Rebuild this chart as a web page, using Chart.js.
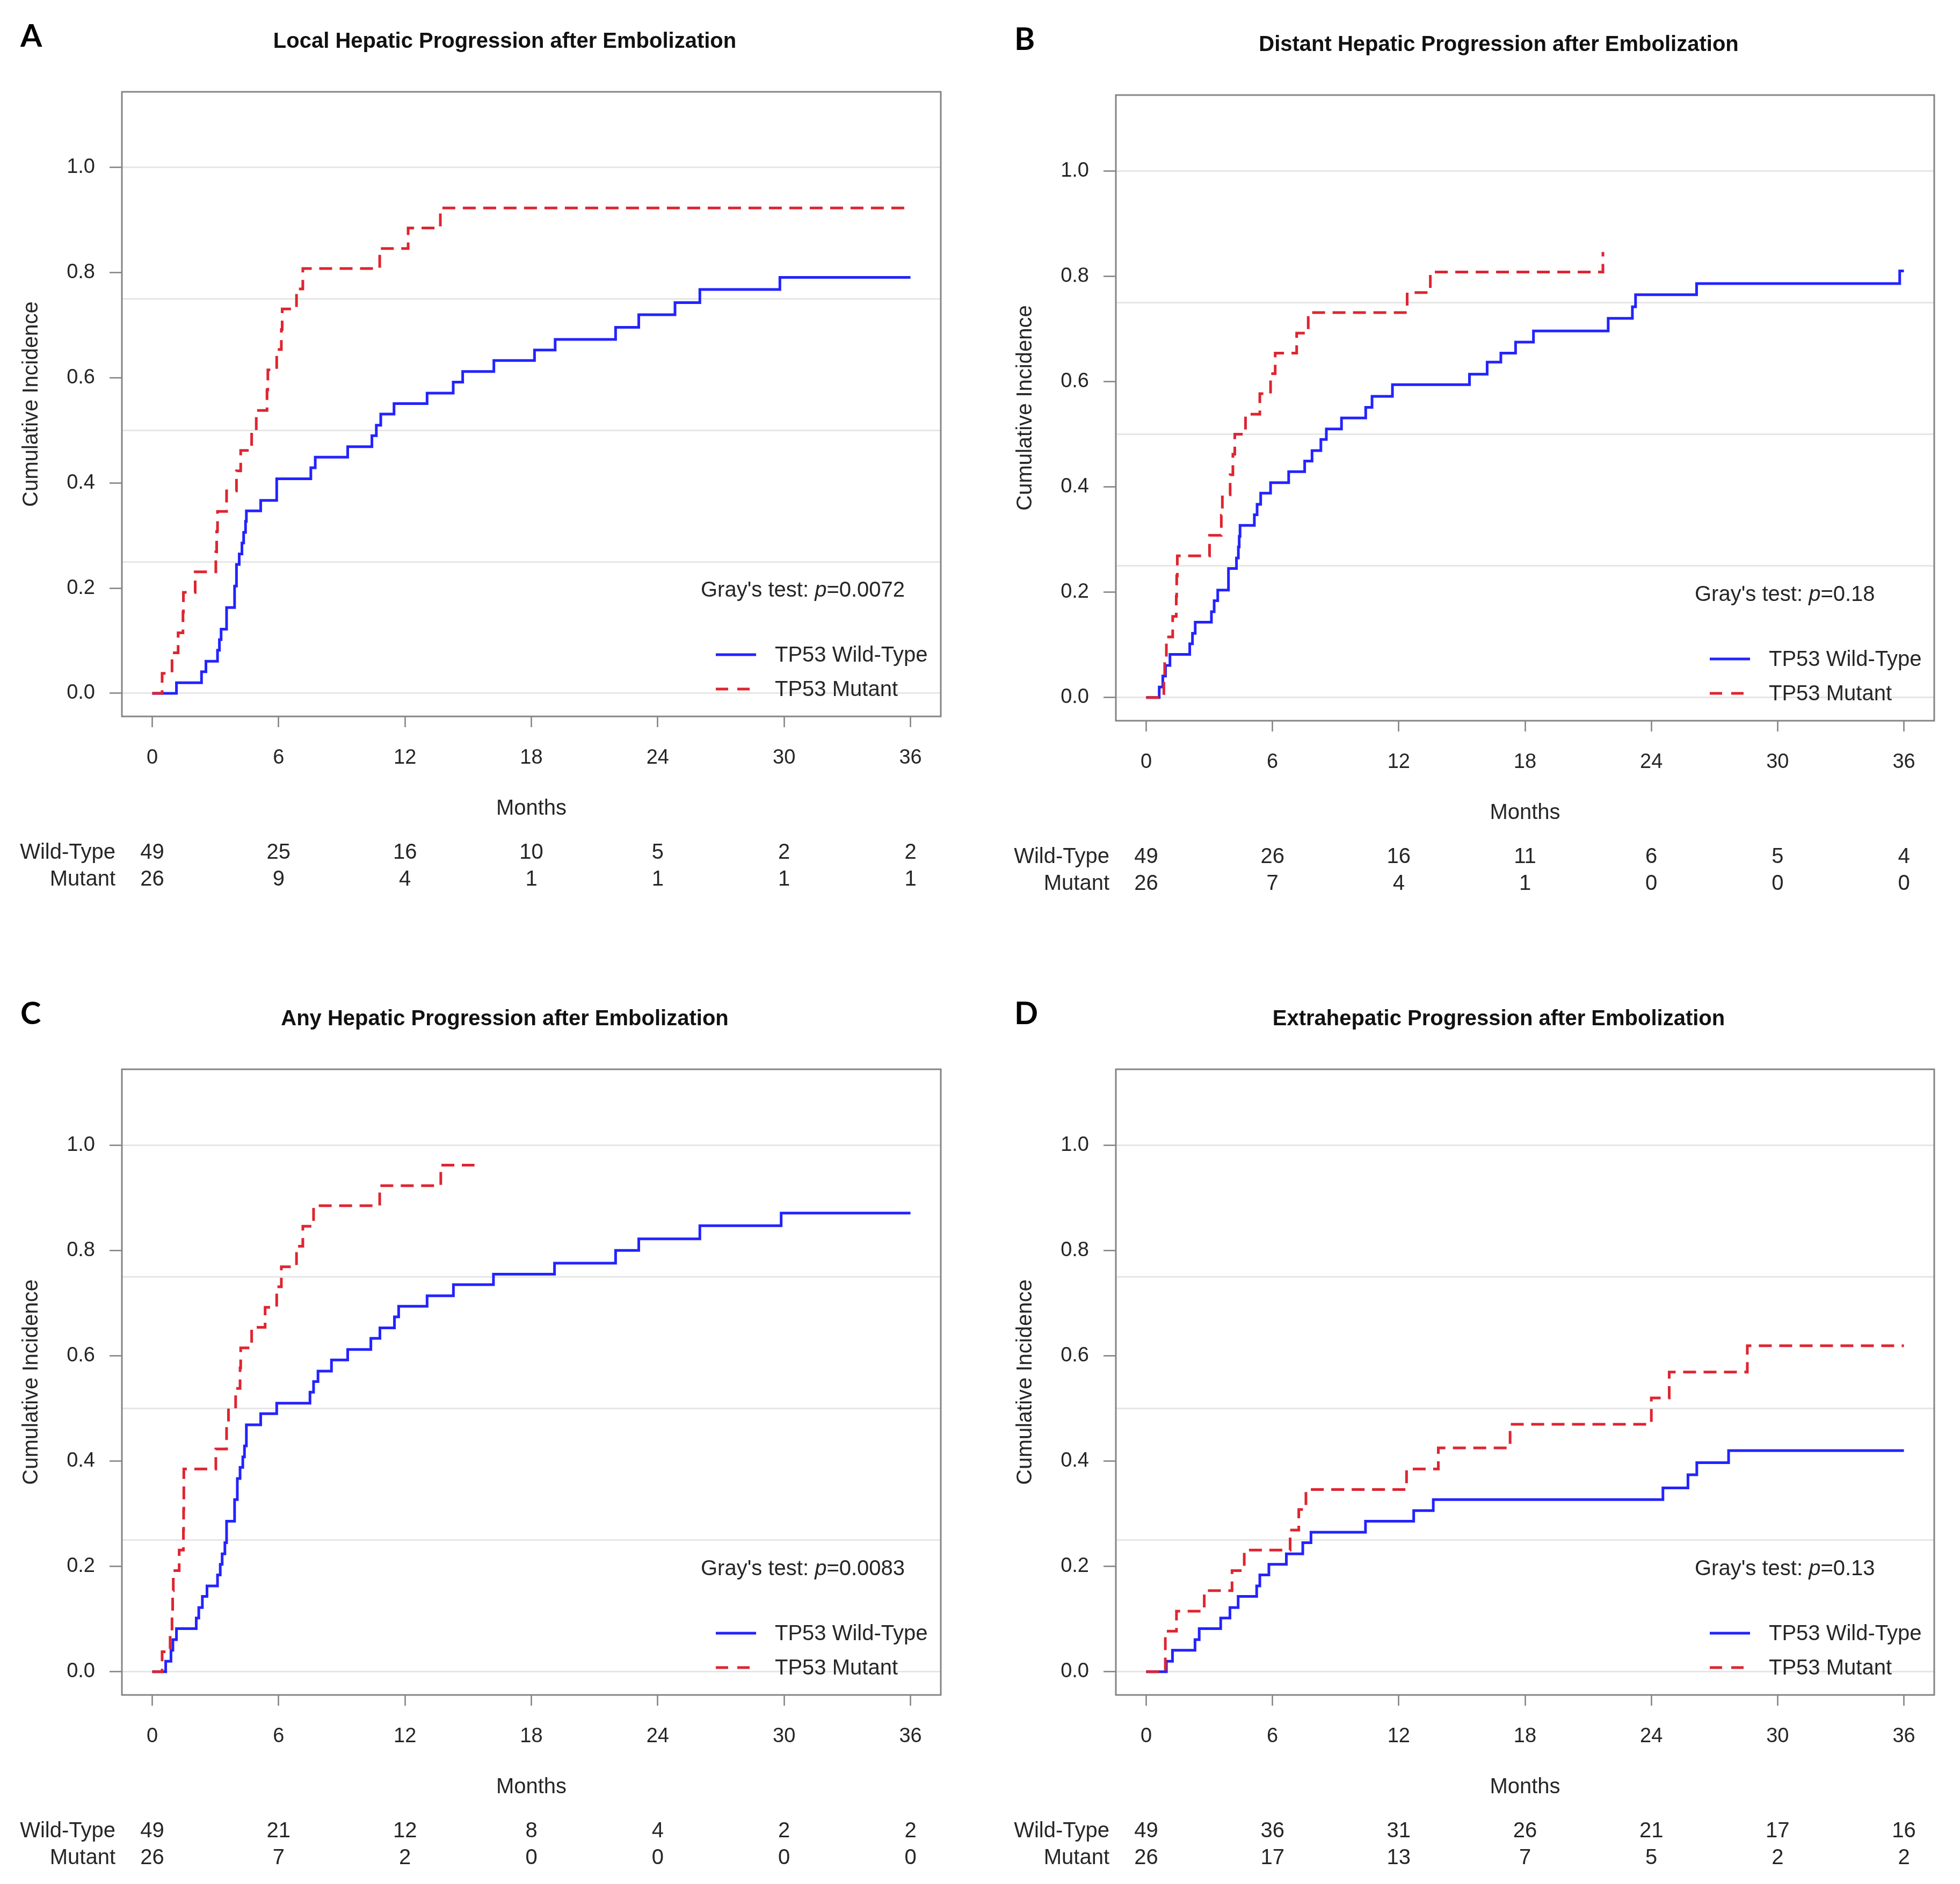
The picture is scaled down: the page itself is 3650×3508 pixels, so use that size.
<!DOCTYPE html>
<html>
<head>
<meta charset="utf-8">
<script src="https://cdn.jsdelivr.net/npm/chart.js@4.4.1/dist/chart.umd.min.js"></script>
<style>
html,body{margin:0;padding:0;background:#fff;}
body{width:3650px;height:3508px;position:relative;overflow:hidden;}
canvas{position:absolute;}
</style>
</head>
<body>
<canvas id="cA" width="1825" height="1754" style="left:0px;top:0px;width:1825px;height:1754px"></canvas>
<canvas id="cB" width="1825" height="1754" style="left:1825px;top:0px;width:1825px;height:1754px"></canvas>
<canvas id="cC" width="1825" height="1754" style="left:0px;top:1754px;width:1825px;height:1754px"></canvas>
<canvas id="cD" width="1825" height="1754" style="left:1825px;top:1754px;width:1825px;height:1754px"></canvas>
<script>
// ---------- tick labels / axis values ----------
const monthTicks = [0, 6, 12, 18, 24, 30, 36];
const yTicks = [0, 0.2, 0.4, 0.6, 0.8, 1.0];
const gridLevels = [0, 0.25, 0.5, 0.75, 1.0];
const groupNames = ['TP53 Wild-Type', 'TP53 Mutant'];
const riskLabels = ['Wild-Type', 'Mutant'];

// ---------- Panel A: Local hepatic progression ----------
const aWildTime = [0,1.15,2.34,2.55,3.1,3.19,3.27,3.53,3.91,4.0,4.13,4.26,4.34,4.43,4.47,5.15,5.91,7.53,7.74,9.28,10.43,10.64,10.85,11.48,13.05,14.29,14.74,16.22,18.15,19.13,22.0,23.1,24.82,26.0,29.8,36];
const aWildCif  = [0,0.020,0.041,0.061,0.082,0.102,0.122,0.163,0.204,0.245,0.265,0.286,0.306,0.327,0.347,0.367,0.408,0.429,0.449,0.469,0.490,0.510,0.531,0.551,0.571,0.592,0.612,0.633,0.653,0.673,0.696,0.720,0.743,0.768,0.791,0.791];
const aMutTime  = [0,0.47,0.94,1.23,1.46,1.48,2.04,3.02,3.06,3.1,3.53,4.0,4.2,4.72,4.94,5.45,5.49,5.91,6.13,6.17,6.85,7.15,10.8,12.15,13.68,36];
const aMutCif   = [0,0.038,0.077,0.115,0.154,0.192,0.231,0.269,0.308,0.346,0.385,0.423,0.462,0.5,0.538,0.577,0.615,0.654,0.692,0.731,0.769,0.808,0.846,0.885,0.923,0.923];
const aRiskWild = [49,25,16,10,5,2,2];
const aRiskMut  = [26,9,4,1,1,1,1];

// ---------- Panel B: Distant hepatic progression ----------
const bWildTime = [0,0.62,0.79,0.92,1.13,2.07,2.2,2.33,3.1,3.23,3.4,3.91,4.29,4.38,4.42,4.46,5.14,5.27,5.44,5.91,6.77,7.53,7.88,8.3,8.56,9.28,10.43,10.73,11.7,15.36,16.2,16.85,17.55,18.4,21.95,23.1,23.25,26.15,35.8,36];
const bWildCif  = [0,0.02,0.041,0.061,0.082,0.102,0.122,0.143,0.163,0.184,0.204,0.245,0.265,0.286,0.306,0.327,0.347,0.367,0.388,0.408,0.429,0.449,0.469,0.49,0.51,0.531,0.551,0.572,0.594,0.614,0.637,0.654,0.675,0.696,0.72,0.742,0.765,0.786,0.81,0.81];
const bMutTime  = [0,0.84,0.88,0.96,1.26,1.43,1.45,1.48,3.01,3.57,3.62,3.99,4.12,4.21,4.72,5.4,5.91,6.13,7.15,7.7,12.4,13.5,21.7];
const bMutCif   = [0,0.038,0.077,0.115,0.154,0.192,0.231,0.269,0.308,0.346,0.385,0.423,0.462,0.5,0.538,0.577,0.615,0.654,0.692,0.731,0.769,0.808,0.846];
const bRiskWild = [49,26,16,11,6,5,4];
const bRiskMut  = [26,7,4,1,0,0,0];

// ---------- Panel C: Any hepatic progression ----------
const cWildTime = [0,0.64,0.89,0.98,1.15,2.09,2.21,2.38,2.6,3.1,3.23,3.32,3.45,3.53,3.91,4.04,4.17,4.3,4.38,4.47,5.15,5.91,7.49,7.66,7.87,8.51,9.28,10.38,10.81,11.5,11.7,13.05,14.3,16.2,19.1,22.0,23.1,26.0,29.86,36];
const cWildCif  = [0,0.02,0.041,0.061,0.082,0.102,0.122,0.143,0.163,0.184,0.204,0.224,0.245,0.286,0.327,0.367,0.388,0.408,0.429,0.469,0.49,0.51,0.531,0.551,0.571,0.592,0.612,0.633,0.653,0.674,0.694,0.714,0.735,0.755,0.776,0.8,0.822,0.847,0.871,0.871];
const cMutTime  = [0,0.47,0.85,0.94,0.97,1.0,1.28,1.48,1.49,1.5,3.02,3.53,3.62,3.96,4.17,4.2,4.72,5.36,5.91,6.13,6.85,7.15,7.66,10.8,13.7,15.3];
const cMutCif   = [0,0.038,0.077,0.115,0.154,0.192,0.231,0.269,0.308,0.385,0.423,0.462,0.5,0.538,0.577,0.615,0.654,0.692,0.731,0.769,0.808,0.846,0.885,0.923,0.962,0.962];
const cRiskWild = [49,21,12,8,4,2,2];
const cRiskMut  = [26,7,2,0,0,0,0];

// ---------- Panel D: Extrahepatic progression ----------
const dWildTime = [0,0.96,1.25,2.32,2.52,3.54,3.98,4.37,5.25,5.4,5.83,6.66,7.44,7.83,10.42,12.71,13.64,24.55,25.74,26.16,27.67,36];
const dWildCif  = [0,0.02,0.041,0.061,0.082,0.102,0.122,0.143,0.163,0.184,0.204,0.224,0.245,0.265,0.286,0.306,0.327,0.349,0.374,0.397,0.42,0.42];
const dMutTime  = [0,0.91,1.44,2.76,4.08,4.66,6.84,7.25,7.59,12.37,13.88,17.29,24.0,24.85,28.56,36];
const dMutCif   = [0,0.077,0.115,0.154,0.192,0.231,0.269,0.308,0.346,0.385,0.425,0.47,0.52,0.569,0.619,0.619];
const dRiskWild = [49,36,31,26,21,17,16];
const dRiskMut  = [26,17,13,7,5,2,2];

const panelLetters = ['A','B','C','D'];
const panelTitles = [
  'Local Hepatic Progression after Embolization',
  'Distant Hepatic Progression after Embolization',
  'Any Hepatic Progression after Embolization',
  'Extrahepatic Progression after Embolization'
];
const grayP = ['0.0072','0.18','0.0083','0.13'];

// ---------- styling ----------
const FONT = "'Liberation Sans', Arial, Helvetica, sans-serif";
const BLUE = '#2323ff';
const RED = '#de2530';
const TXT = '#262626';

function toXY(t, v) { return t.map((x, i) => ({ x: x, y: v[i] })); }

function makePanel(id, idx, wT, wY, mT, mY, rW, rM, pad) {
  const overlay = {
    id: 'overlay' + idx,
    afterDraw(chart) {
      const ctx = chart.ctx, a = chart.chartArea, xs = chart.scales.x;
      ctx.save();
      // plot box
      ctx.strokeStyle = '#858585';
      ctx.lineWidth = 3;
      ctx.strokeRect(a.left, a.top, a.right - a.left, a.bottom - a.top);
      // panel letter
      ctx.fillStyle = '#000';
      ctx.textBaseline = 'alphabetic';
      ctx.textAlign = 'left';
      ctx.font = "bold 58px Lato, 'Open Sans', sans-serif";
      ctx.fillText(panelLetters[idx], a.left - 189, a.top - 84);
      // title
      ctx.font = 'bold 40px ' + FONT;
      ctx.textAlign = 'center';
      ctx.fillStyle = '#111';
      ctx.fillText(panelTitles[idx], a.left + 713, a.top - 82);
      // Gray's test
      ctx.fillStyle = TXT;
      ctx.textAlign = 'left';
      let gx = a.left + 1078;
      const gy = a.bottom - 223;
      ctx.font = '40px ' + FONT;
      const s1 = "Gray's test: ";
      ctx.fillText(s1, gx, gy); gx += ctx.measureText(s1).width;
      ctx.font = 'italic 40px ' + FONT;
      ctx.fillText('p', gx, gy); gx += ctx.measureText('p').width;
      ctx.font = '40px ' + FONT;
      ctx.fillText('=' + grayP[idx], gx, gy);
      // legend
      const lx0 = a.left + 1106, lx1 = a.left + 1181, tx = a.left + 1216;
      const rows = [a.bottom - 115, a.bottom - 51];
      ctx.lineWidth = 5;
      ctx.strokeStyle = BLUE; ctx.setLineDash([]);
      ctx.beginPath(); ctx.moveTo(lx0, rows[0]); ctx.lineTo(lx1, rows[0]); ctx.stroke();
      ctx.strokeStyle = RED; ctx.setLineDash([23, 17]);
      ctx.beginPath(); ctx.moveTo(lx0, rows[1]); ctx.lineTo(lx1, rows[1]); ctx.stroke();
      ctx.setLineDash([]);
      ctx.textBaseline = 'middle';
      ctx.fillStyle = TXT;
      ctx.fillText(groupNames[0], tx, rows[0] + 2);
      ctx.fillText(groupNames[1], tx, rows[1] + 2);
      // risk table
      const ry = [a.bottom + 254, a.bottom + 304];
      ctx.textAlign = 'right';
      ctx.fillText(riskLabels[0], a.left - 12, ry[0]);
      ctx.fillText(riskLabels[1], a.left - 12, ry[1]);
      ctx.textAlign = 'center';
      monthTicks.forEach((m, i) => {
        const px = xs.getPixelForValue(m);
        ctx.fillText(String(rW[i]), px, ry[0]);
        ctx.fillText(String(rM[i]), px, ry[1]);
      });
      ctx.restore();
    }
  };

  return new Chart(document.getElementById(id), {
    type: 'line',
    data: {
      datasets: [
        { label: groupNames[1], data: toXY(mT, mY), borderColor: RED, borderWidth: 5,
          borderDash: [24, 14], stepped: true, pointRadius: 0, fill: false },
        { label: groupNames[0], data: toXY(wT, wY), borderColor: BLUE, borderWidth: 5,
          stepped: true, pointRadius: 0, fill: false }
      ]
    },
    options: {
      responsive: false,
      animation: false,
      devicePixelRatio: 1,
      events: [],
      layout: { padding: pad },
      plugins: { legend: { display: false }, tooltip: { enabled: false }, title: { display: false } },
      scales: {
        x: {
          type: 'linear', position: 'bottom', min: -1.44, max: 37.44,
          afterBuildTicks: s => { s.ticks = monthTicks.map(v => ({ value: v })); },
          afterFit: s => { s.height = 196; },
          grid: { drawOnChartArea: false, drawTicks: true, tickLength: 20, tickColor: '#808080', tickWidth: 2.5 },
          border: { display: false },
          ticks: { font: { family: FONT, size: 38, lineHeight: 1 }, color: TXT, padding: 39,
                   maxRotation: 0, autoSkip: false, callback: v => String(v) },
          title: { display: true, text: 'Months', color: TXT,
                   font: { family: FONT, size: 40, lineHeight: 1 }, padding: { top: 4, bottom: 4 } }
        },
        y: {
          type: 'linear', position: 'left', min: -0.044, max: 1.144,
          afterBuildTicks: s => { s.ticks = yTicks.map(v => ({ value: v })); },
          afterFit: s => { s.width = 192; },
          grid: { drawOnChartArea: false, drawTicks: true, tickLength: 23, tickColor: '#808080', tickWidth: 2.5 },
          border: { display: false },
          ticks: { font: { family: FONT, size: 38, lineHeight: 1 }, color: TXT, padding: 27,
                   autoSkip: false, callback: v => Number(v).toFixed(1) },
          title: { display: true, text: 'Cumulative Incidence', color: TXT,
                   font: { family: FONT, size: 40, lineHeight: 1 }, padding: { top: 4, bottom: 4 } }
        },
        yGrid: {
          type: 'linear', position: 'left', min: -0.044, max: 1.144,
          afterBuildTicks: s => { s.ticks = gridLevels.map(v => ({ value: v })); },
          afterFit: s => { s.width = 0; },
          grid: { drawOnChartArea: true, drawTicks: false, color: '#e6e6e6', lineWidth: 3 },
          border: { display: false },
          ticks: { display: false }
        }
      }
    },
    plugins: [overlay]
  });
}

makePanel('cA', 0, aWildTime, aWildCif, aMutTime, aMutCif, aRiskWild, aRiskMut,
          { left: 35, top: 171, right: 73, bottom: 224 });
makePanel('cB', 1, bWildTime, bWildCif, bMutTime, bMutCif, bRiskWild, bRiskMut,
          { left: 61, top: 177, right: 48, bottom: 216 });
makePanel('cC', 2, cWildTime, cWildCif, cMutTime, cMutCif, cRiskWild, cRiskMut,
          { left: 35, top: 237, right: 73, bottom: 156 });
makePanel('cD', 3, dWildTime, dWildCif, dMutTime, dMutCif, dRiskWild, dRiskMut,
          { left: 61, top: 237, right: 48, bottom: 156 });
</script>
</body>
</html>
